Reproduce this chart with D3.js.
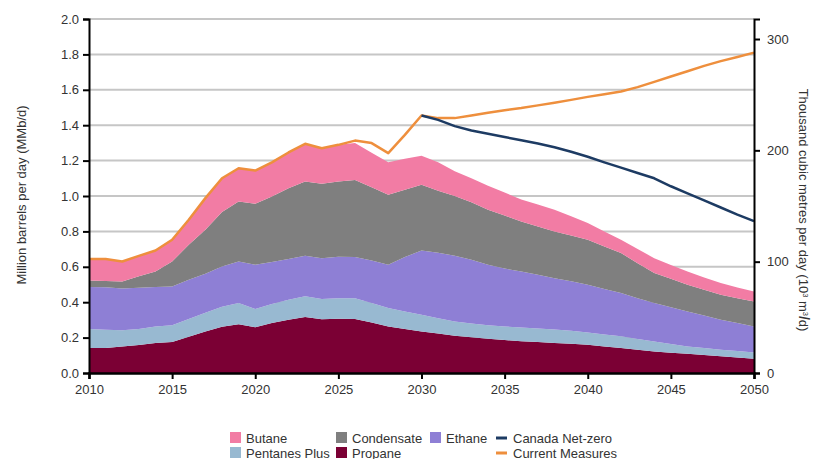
<!DOCTYPE html>
<html>
<head>
<meta charset="utf-8">
<script src="https://cdn.jsdelivr.net/npm/d3@7"></script>
<style>
  html, body { margin: 0; padding: 0; background: #fff; }
  svg { display: block; font-family: Arial, "Liberation Sans", sans-serif; }
</style>
</head>
<body>
<svg id="chart" width="815" height="459"></svg>
<script>
// Natural gas liquids supply, million barrels per day
const years = d3.range(2010, 2051);

const propane = [0.141,0.141,0.150,0.158,0.169,0.175,0.205,0.235,0.262,0.275,0.258,0.282,0.301,0.316,0.303,0.306,0.305,0.285,0.263,0.249,0.235,0.223,0.211,0.202,0.193,0.186,0.180,0.175,0.170,0.165,0.160,0.150,0.141,0.131,0.122,0.115,0.109,0.101,0.094,0.087,0.080];
const pentanesPlus = [0.107,0.104,0.091,0.090,0.094,0.095,0.100,0.105,0.113,0.120,0.104,0.108,0.113,0.117,0.115,0.117,0.118,0.110,0.104,0.099,0.094,0.087,0.080,0.078,0.077,0.077,0.077,0.077,0.076,0.073,0.069,0.068,0.066,0.061,0.056,0.049,0.041,0.040,0.038,0.037,0.036];
const ethane = [0.238,0.239,0.237,0.234,0.223,0.219,0.222,0.221,0.227,0.235,0.249,0.237,0.230,0.229,0.231,0.234,0.232,0.240,0.244,0.307,0.363,0.370,0.371,0.360,0.342,0.327,0.317,0.303,0.290,0.280,0.270,0.257,0.245,0.231,0.217,0.208,0.198,0.184,0.169,0.158,0.147];
const condensate = [0.037,0.036,0.039,0.064,0.088,0.141,0.197,0.248,0.308,0.339,0.345,0.370,0.400,0.420,0.420,0.425,0.436,0.415,0.396,0.380,0.371,0.350,0.338,0.325,0.310,0.300,0.282,0.273,0.264,0.259,0.254,0.240,0.226,0.197,0.170,0.160,0.151,0.145,0.141,0.141,0.141];
const butane = [0.121,0.124,0.113,0.116,0.118,0.123,0.142,0.179,0.190,0.188,0.188,0.193,0.202,0.213,0.201,0.207,0.209,0.195,0.183,0.175,0.165,0.160,0.140,0.135,0.136,0.130,0.124,0.124,0.122,0.108,0.094,0.085,0.075,0.080,0.084,0.078,0.075,0.070,0.066,0.060,0.057];

// Total supply, Current Measures scenario (2010-2050)
const currentMeasures = [0.644,0.644,0.630,0.662,0.692,0.753,0.866,0.988,1.100,1.157,1.144,1.190,1.246,1.295,1.270,1.289,1.313,1.299,1.242,1.345,1.455,1.440,1.440,1.455,1.470,1.485,1.497,1.512,1.527,1.543,1.560,1.575,1.590,1.615,1.645,1.675,1.705,1.735,1.762,1.785,1.810];
// Total supply, Canada Net-zero scenario (2030-2050)
const netZeroYears = d3.range(2030, 2051);
const canadaNetZero = [1.455,1.430,1.395,1.370,1.352,1.333,1.315,1.297,1.275,1.250,1.222,1.190,1.160,1.130,1.100,1.055,1.015,0.975,0.935,0.895,0.858];

const leftTicks = [0.0,0.2,0.4,0.6,0.8,1.0,1.2,1.4,1.6,1.8,2.0];
const rightTicks = [0, 100, 200, 300];
const xTicks = [2010,2015,2020,2025,2030,2035,2040,2045,2050];

const seriesNames = ["Propane", "Pentanes Plus", "Ethane", "Condensate", "Butane"];
const seriesValues = [propane, pentanesPlus, ethane, condensate, butane];
const colors = {
  "Propane": "#7b0034",
  "Pentanes Plus": "#98b9d1",
  "Ethane": "#8e7fd5",
  "Condensate": "#7f7f7f",
  "Butane": "#f27ca4",
  "Canada Net-zero": "#1d3b63",
  "Current Measures": "#ee8f3d"
};

const M3_PER_BBL = 158.987; // thousand m3/d per million b/d

const svg = d3.select("#chart");
const plotLeft = 89, plotRight = 754, plotTop = 19, plotBottom = 373;

const x = d3.scaleLinear().domain([2010, 2050]).range([plotLeft, plotRight]);
const y = d3.scaleLinear().domain([0, 2]).range([plotBottom, plotTop]);
const y2 = d3.scaleLinear().domain([0, 2 * M3_PER_BBL]).range([plotBottom, plotTop]);

// Gridlines
svg.append("g")
  .selectAll("line")
  .data(leftTicks.filter(d => d > 0))
  .join("line")
  .attr("x1", plotLeft).attr("x2", plotRight)
  .attr("y1", d => y(d)).attr("y2", d => y(d))
  .attr("stroke", "#c6c6c6").attr("stroke-width", 2);

// Stacked areas
const table = years.map((yr, i) => {
  const row = { year: yr };
  seriesNames.forEach((n, k) => row[n] = seriesValues[k][i]);
  return row;
});
const stack = d3.stack().keys(seriesNames)(table);
const area = d3.area()
  .x(d => x(d.data.year))
  .y0(d => y(d[0]))
  .y1(d => y(d[1]));

svg.append("g")
  .selectAll("path")
  .data(stack)
  .join("path")
  .attr("d", area)
  .attr("fill", d => colors[d.key]);

// Scenario lines
const line = d3.line().x(d => x(d[0])).y(d => y(d[1]));
svg.append("path")
  .attr("d", line(years.map((yr, i) => [yr, currentMeasures[i]])))
  .attr("fill", "none")
  .attr("stroke", colors["Current Measures"])
  .attr("stroke-width", 2.5)
  .attr("stroke-linejoin", "round");
svg.append("path")
  .attr("d", line(netZeroYears.map((yr, i) => [yr, canadaNetZero[i]])))
  .attr("fill", "none")
  .attr("stroke", colors["Canada Net-zero"])
  .attr("stroke-width", 2.5)
  .attr("stroke-linejoin", "round");

// Axes
const tickFont = g => g.selectAll("text")
  .attr("font-size", 13)
  .attr("fill", "#333")
  .attr("font-family", "Arial, 'Liberation Sans', sans-serif");

const leftAxis = svg.append("g")
  .attr("transform", `translate(${plotLeft},0)`)
  .call(d3.axisLeft(y).tickValues(leftTicks).tickFormat(d3.format(".1f")).tickSize(6).tickPadding(4));
leftAxis.select(".domain").attr("stroke", "#000").attr("stroke-width", 2);
leftAxis.selectAll(".tick line").attr("stroke", "#000").attr("stroke-width", 2);
leftAxis.call(tickFont);

const rightAxis = svg.append("g")
  .attr("transform", `translate(${plotRight},0)`)
  .call(d3.axisRight(y2).tickValues(rightTicks).tickSize(6).tickPadding(7));
rightAxis.select(".domain").attr("stroke", "#000").attr("stroke-width", 2);
rightAxis.selectAll(".tick line").attr("stroke", "#000").attr("stroke-width", 2);
rightAxis.call(tickFont);

const bottomAxis = svg.append("g")
  .attr("transform", `translate(0,${plotBottom})`)
  .call(d3.axisBottom(x).tickValues(xTicks).tickFormat(d3.format("d")).tickSize(6).tickPadding(6));
bottomAxis.select(".domain").attr("stroke", "#000").attr("stroke-width", 2.5);
bottomAxis.selectAll(".tick line").attr("stroke", "#000").attr("stroke-width", 2);
bottomAxis.call(tickFont);

// Axis titles
svg.append("text")
  .attr("transform", `translate(26,195) rotate(-90)`)
  .attr("text-anchor", "middle")
  .attr("font-size", 13)
  .attr("fill", "#333")
  .text("Million barrels per day (MMb/d)");

const rt = svg.append("text")
  .attr("transform", `translate(799,210) rotate(90)`)
  .attr("text-anchor", "middle")
  .attr("font-size", 13)
  .attr("fill", "#333");
rt.append("tspan").text("Thousand cubic metres per day   (10");
rt.append("tspan").attr("font-size", 7.5).attr("dy", -4).text("3");
rt.append("tspan").attr("dy", 4).text(" m");
rt.append("tspan").attr("font-size", 7.5).attr("dy", -4).text("3");
rt.append("tspan").attr("dy", 4).attr("font-weight", "bold").attr("font-size", 14).text("/");
rt.append("tspan").text("d)");

// Legend
const legendItems = [
  { name: "Butane", type: "rect", x: 230, row: 0 },
  { name: "Condensate", type: "rect", x: 336, row: 0 },
  { name: "Ethane", type: "rect", x: 430, row: 0 },
  { name: "Canada Net-zero", type: "line", x: 496, row: 0 },
  { name: "Pentanes Plus", type: "rect", x: 230, row: 1 },
  { name: "Propane", type: "rect", x: 336, row: 1 },
  { name: "Current Measures", type: "line", x: 496, row: 1 }
];
const rowY = [438, 453];
const lg = svg.append("g").selectAll("g").data(legendItems).join("g")
  .attr("transform", d => `translate(${d.x},${rowY[d.row]})`);
lg.filter(d => d.type === "rect").append("rect")
  .attr("x", 0).attr("y", -6).attr("width", 11).attr("height", 11)
  .attr("fill", d => colors[d.name]);
lg.filter(d => d.type === "line").append("line")
  .attr("x1", 0).attr("x2", 11).attr("y1", 0).attr("y2", 0)
  .attr("stroke", d => colors[d.name]).attr("stroke-width", 3);
lg.append("text")
  .attr("x", d => d.type === "rect" ? 16 : 17)
  .attr("y", 4.5)
  .attr("font-size", 13)
  .attr("fill", "#333")
  .text(d => d.name);
</script>
</body>
</html>
